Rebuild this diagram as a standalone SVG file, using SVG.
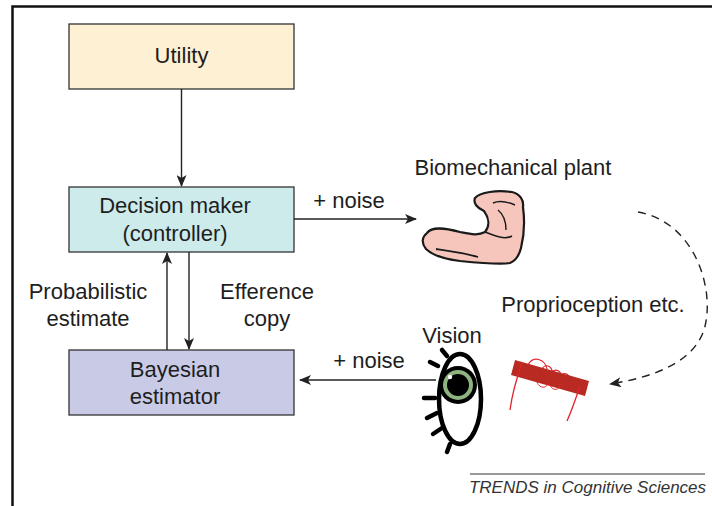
<svg xmlns="http://www.w3.org/2000/svg" width="712" height="506" viewBox="0 0 712 506">
<defs>
<style>
text{font-family:"Liberation Sans",Arial,sans-serif;font-size:22px;fill:#1e1e1e;text-anchor:middle}
.box{stroke:#333;stroke-width:1.3}
.ln{stroke:#222;stroke-width:1.4;fill:none}
.eye{stroke:#000;fill:none;stroke-width:4.5;stroke-linecap:round}
</style>
<marker id="ah" viewBox="0 0 12 10" refX="11" refY="5" markerWidth="12" markerHeight="10" markerUnits="userSpaceOnUse" orient="auto">
<path d="M0,0 L12,5 L0,10 L3,5 Z" fill="#222"/>
</marker>
</defs>
<rect width="712" height="506" fill="#fff"/>
<path d="M12.5,506 V6.5 H712" fill="none" stroke="#111" stroke-width="2.5"/>

<g id="utility">
<rect class="box" x="69" y="24" width="225" height="65" fill="#FEF0D2"/>
<text x="181.5" y="63">Utility</text>
</g>
<g id="decision-maker">
<rect class="box" x="69" y="187" width="225" height="65" fill="#CDEBEA"/>
<text x="175" y="213">Decision maker</text>
<text x="175" y="241">(controller)</text>
</g>
<g id="bayesian-estimator">
<rect class="box" x="69" y="350" width="225" height="65" fill="#C9CBE6"/>
<text x="175" y="377">Bayesian</text>
<text x="175" y="404">estimator</text>
</g>

<g id="biomechanical-plant">
<text x="513" y="175">Biomechanical plant</text>
<path d="M427,233 C432,226 445,228 460,232 C470,234 478,236 485,232 C490,226 489,218 484,211 C477,208 473,203 475,198 C480,192 497,190 512,192 C520,194 524,200 523,207 C525,222 524,236 521,248 C519,256 515,261 510,263 C500,265 480,263 460,261 C445,259 432,255 426,249 C421,243 422,237 427,233 Z" fill="#F6C6BC" stroke="#1a1a1a" stroke-width="2.2" stroke-linejoin="round"/>
<path d="M436,249 C450,251 465,253 478,257" fill="none" stroke="#1a1a1a" stroke-width="1.8"/>
<path d="M485,232 C495,236 505,240 512,236" fill="none" stroke="#1a1a1a" stroke-width="1.5"/>
<path d="M493,203 C500,200 508,202 515,205 M498,210 C503,214 506,222 506,230" fill="none" stroke="#1a1a1a" stroke-width="1.4"/>
</g>

<g id="vision">
<text x="452" y="343">Vision</text>
<ellipse class="eye" cx="460" cy="399" rx="21" ry="45"/>
<circle cx="458" cy="385" r="19" fill="#000"/>
<circle cx="458" cy="385" r="15" fill="#8FB480"/>
<circle cx="458" cy="385" r="11" fill="#000"/>
<circle cx="450" cy="377" r="2.2" fill="#fff"/>
<path class="eye" stroke-width="3.5" d="M442,350 L447,356 M430,362 L438,366 M424,398 L435,398 M427,418 L437,413 M433,434 L442,428 M447,452 L450,444"/>
</g>

<g id="proprioception">
<text x="593" y="312">Proprioception etc.</text>
<path d="M528,365 C533,355 545,359 547,369 M541,373 C542,363 552,363 553,375 M550,377 C551,368 561,367 562,379 M560,380 C560,371 570,371 570,382" fill="none" stroke="#E2232E" stroke-width="1.2"/>
<polygon points="515,360 589,381 585,396 511,375" fill="#B92A22"/>
<path d="M522,363 C516,380 512,395 510,410 M580,386 C576,398 572,410 567,421" fill="none" stroke="#E2232E" stroke-width="1.3"/>
<path d="M537,382 C540,390 548,388 549,381 M550,385 C553,392 560,390 560,384" fill="none" stroke="#E2232E" stroke-width="1"/>
</g>

<g id="connectors">
<line class="ln" x1="181.5" y1="89" x2="181.5" y2="186" marker-end="url(#ah)"/>
<line class="ln" x1="294" y1="219" x2="416" y2="219" marker-end="url(#ah)"/>
<line class="ln" x1="167" y1="350" x2="167" y2="253" marker-end="url(#ah)"/>
<line class="ln" x1="189" y1="252" x2="189" y2="349" marker-end="url(#ah)"/>
<line class="ln" x1="436" y1="380" x2="300" y2="380" marker-end="url(#ah)"/>
<path class="ln" stroke-width="1.6" stroke-dasharray="8,6" d="M638,212 C695,222 716,290 704,330 C693,362 655,377 610,384" marker-end="url(#ah)"/>
<text x="349" y="208">+ noise</text>
<text x="369" y="368">+ noise</text>
<text x="88" y="299">Probabilistic</text>
<text x="88" y="326">estimate</text>
<text x="267" y="299">Efference</text>
<text x="267" y="326">copy</text>
</g>

<g id="credit">
<line x1="470" y1="474" x2="705" y2="474" stroke="#333" stroke-width="1"/>
<text x="587.5" y="493" style="font-size:17px;font-style:italic;fill:#333">TRENDS in Cognitive Sciences</text>
</g>
</svg>
